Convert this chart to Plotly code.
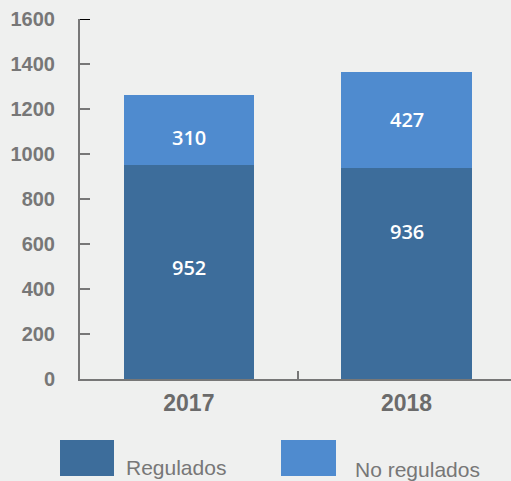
import plotly.graph_objects as go

years = ["2017", "2018"]
regulados = [952, 936]
no_regulados = [310, 427]
y_ticks = [0, 200, 400, 600, 800, 1000, 1200, 1400, 1600]
series_names = ["Regulados", "No regulados"]

DARK = "#3d6d9b"
LIGHT = "#4f8bcf"
BG = "#eff0ef"
GRAY = "#777777"

W, H = 511, 481
L, T, B = 80, 19, 102
PW = W - L
PH = H - T - B

def px(x):
    return (x - L) / PW

def py(y):
    return (H - B - y) / PH

# label pixel offsets from segment centres (layout only)
label_shift = {"Regulados": [4, 42], "No regulados": [-8, 1]}

fig = go.Figure()
base = [0, 0]
for name, vals, col in [(series_names[0], regulados, DARK), (series_names[1], no_regulados, LIGHT)]:
    fig.add_trace(go.Bar(
        x=years, y=vals, name=name, marker=dict(color=col, line=dict(width=0)),
        width=0.6, showlegend=False, hoverinfo="x+y+name",
    ))
    for i, v in enumerate(vals):
        fig.add_annotation(xref="x", yref="y", x=i, y=base[i] + v / 2, text=str(v),
                           showarrow=False, yshift=label_shift[name][i],
                           font=dict(family="Open Sans", size=20, color="white", weight=600))
        base[i] += v

fig.update_layout(
    barmode="stack",
    width=W, height=H,
    margin=dict(l=L, r=0, t=T, b=B, pad=0),
    paper_bgcolor=BG, plot_bgcolor=BG,
    showlegend=False,
    xaxis=dict(
        type="category", range=[-0.5, 1.48], showgrid=False, showline=True,
        linecolor=GRAY, linewidth=2, ticks="inside", tickson="boundaries",
        ticklen=8, tickcolor=GRAY, tickwidth=1.5, ticklabelstandoff=2,
        tickfont=dict(family="Liberation Sans", size=23, color="#6b6b6b", weight="bold"),
    ),
    yaxis=dict(
        range=[0, 1600], tickvals=y_ticks, showgrid=False, zeroline=False,
        showline=True, linecolor=GRAY, linewidth=2, ticks="inside", ticklen=10,
        tickcolor=GRAY, tickwidth=2, ticklabelstandoff=19,
        tickfont=dict(family="Liberation Sans", size=20, color=GRAY, weight="bold"),
    ),
)

# black top tick
fig.add_shape(type="line", xref="paper", yref="y", x0=0, x1=10 / PW, y0=1600, y1=1600,
              line=dict(color="black", width=2))

# custom legend
legend_items = [(series_names[0], DARK, 60, 114, 124, 475), (series_names[1], LIGHT, 281, 336, 353, 477)]
for name, col, x0, x1, tx, bl in legend_items:
    fig.add_shape(type="rect", xref="paper", yref="paper", x0=px(x0), x1=px(x1),
                  y0=py(476), y1=py(440), fillcolor=col, line=dict(width=0))
    fig.add_annotation(xref="paper", yref="paper", x=px(tx), y=py(bl + 6), xanchor="left",
                       yanchor="bottom", text=name, showarrow=False,
                       font=dict(family="Liberation Sans", size=21, color=GRAY))

fig.write_html("out.html", config={"displayModeBar": False},
               post_script="document.body.style.margin='0';document.body.style.overflow='hidden';")
